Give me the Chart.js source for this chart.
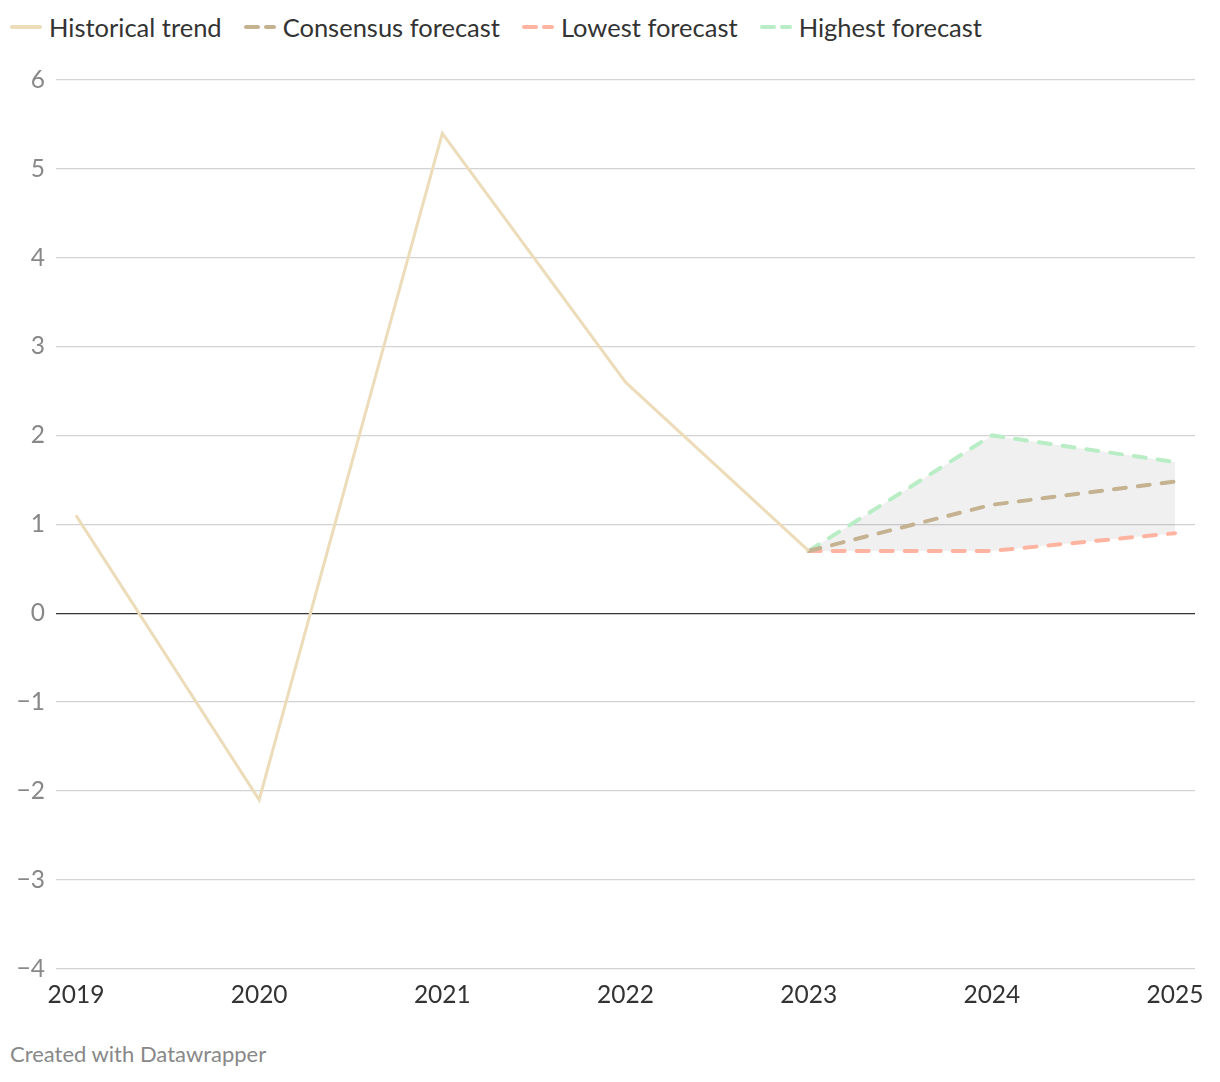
<!DOCTYPE html>
<html>
<head>
<meta charset="utf-8">
<script src="https://cdn.jsdelivr.net/npm/chart.js@4.4.1/dist/chart.umd.min.js"></script>
<style>
  body { margin: 0; background: #fff; font-family: Lato, "Noto Sans", sans-serif; }
  #legend { height: 54px; display: flex; align-items: center; padding-left: 10px; font-size: 25.5px; color: #333; }
  .item { display: flex; align-items: center; margin-right: 22px; }
  .item svg { margin-right: 7px; }
  #wrap { position: relative; width: 1220px; height: 975px; }
  #footer { font-size: 22px; color: #888; padding-left: 10px; margin-top: 11px; }
</style>
</head>
<body>
<div id="legend"></div>
<div id="wrap"><canvas id="chart"></canvas></div>
<div id="footer">Created with Datawrapper</div>
<script>
// data
var years = [2019, 2020, 2021, 2022, 2023, 2024, 2025];
var historical = [1.1, -2.1, 5.4, 2.6, 0.7];
var forecastYears = [2023, 2024, 2025];
var consensus = [0.7, 1.22, 1.48];
var lowest = [0.7, 0.7, 0.9];
var highest = [0.7, 2.0, 1.7];
var yTicks = [-4, -3, -2, -1, 0, 1, 2, 3, 4, 5, 6];

var colors = {
    historical: '#ecdcb9',
    consensus: '#c4b291',
    lowest: '#ffb4a2',
    highest: '#b9edc5'
};

function toPoints(xs, ys) {
    return ys.map(function(v, i) { return { x: xs[i], y: v }; });
}

// legend built as html
var legendItems = [
    ['Historical trend', colors.historical, false],
    ['Consensus forecast', colors.consensus, true],
    ['Lowest forecast', colors.lowest, true],
    ['Highest forecast', colors.highest, true]
];
var legend = document.getElementById('legend');
legendItems.forEach(function(it) {
    var el = document.createElement('div');
    el.className = 'item';
    var dash = it[2] ? ' stroke-dasharray="12 8"' : '';
    el.innerHTML = '<svg width="32" height="8"><line x1="2" y1="4" x2="30" y2="4" stroke="' + it[1] +
        '" stroke-width="4" stroke-linecap="round"' + dash + '/></svg>' + it[0];
    legend.appendChild(el);
});

var ctx = document.getElementById('chart').getContext('2d');
new Chart(ctx, {
    type: 'line',
    data: {
        datasets: [
            {
                label: 'Historical trend',
                data: toPoints(years, historical),
                borderColor: colors.historical,
                borderWidth: 3,
                pointRadius: 0,
                fill: false
            },
            {
                label: 'Consensus forecast',
                data: toPoints(forecastYears, consensus),
                borderColor: colors.consensus,
                borderWidth: 4,
                borderDash: [12, 12],
                borderCapStyle: 'round',
                pointRadius: 0,
                fill: false
            },
            {
                label: 'Lowest forecast',
                data: toPoints(forecastYears, lowest),
                borderColor: colors.lowest,
                borderWidth: 4,
                borderDash: [12, 12],
                borderCapStyle: 'round',
                pointRadius: 0,
                fill: false
            },
            {
                label: 'Highest forecast',
                data: toPoints(forecastYears, highest),
                borderColor: colors.highest,
                borderWidth: 4,
                borderDash: [12, 12],
                borderCapStyle: 'round',
                pointRadius: 0,
                backgroundColor: 'rgba(0,0,0,0.06)',
                fill: 2
            }
        ]
    },
    options: {
        responsive: true,
        maintainAspectRatio: false,
        animation: false,
        layout: { padding: { left: 0, right: 25, top: 26, bottom: 15 } },
        plugins: {
            legend: { display: false },
            tooltip: { enabled: false },
            filler: { drawTime: 'beforeDatasetsDraw' }
        },
        scales: {
            x: {
                type: 'linear',
                min: 2018.891,
                max: 2025.109,
                afterBuildTicks: function(axis) {
                    axis.ticks = years.map(function(v) { return { value: v }; });
                },
                grid: { display: false },
                border: { display: false },
                ticks: {
                    color: '#333',
                    font: { family: 'Lato', size: 24.5 },
                    padding: 4,
                    maxRotation: 0,
                    callback: function(v) { return String(v); }
                }
            },
            y: {
                min: -4,
                max: 6,
                afterBuildTicks: function(axis) {
                    axis.ticks = yTicks.map(function(v) { return { value: v }; });
                },
                afterFit: function(axis) { axis.width = 56; },
                grid: {
                    drawTicks: false,
                    lineWidth: 1.3,
                    color: function(c) { return c.tick && c.tick.value === 0 ? '#333' : '#d3d3d3'; }
                },
                border: { display: false },
                ticks: {
                    color: '#888',
                    padding: 11,
                    font: { family: 'Lato', size: 24.5 },
                    callback: function(v) { return v < 0 ? '\u2212' + Math.abs(v) : String(v); }
                }
            }
        }
    }
});
</script>
</body>
</html>
